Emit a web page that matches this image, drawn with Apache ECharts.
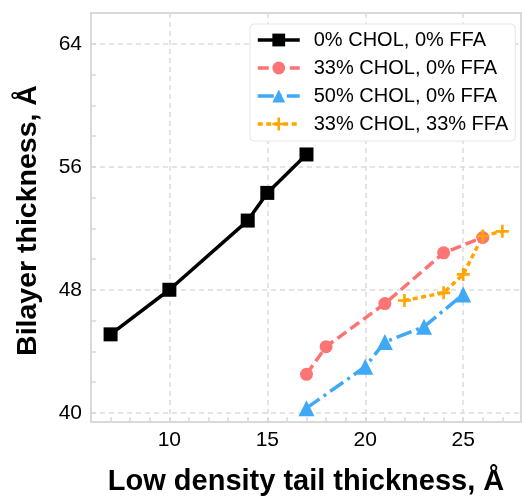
<!DOCTYPE html>
<html>
<head>
<meta charset="utf-8">
<script src="https://cdn.jsdelivr.net/npm/echarts@6/dist/echarts.min.js"></script>
<style>
  html, body { margin: 0; padding: 0; background: #fff; }
  #chart { width: 522px; height: 496px; }
</style>
</head>
<body>
<div id="chart"></div>
<script>
// data
const names = ["0% CHOL, 0% FFA", "33% CHOL, 0% FFA", "50% CHOL, 0% FFA", "33% CHOL, 33% FFA"];
const xChol0 = [7, 10, 14, 15, 17];
const yChol0 = [45.1, 48.0, 52.5, 54.3, 56.8];
const xChol33 = [17, 18, 21, 24, 26];
const yChol33 = [42.5, 44.3, 47.1, 50.4, 51.4];
const xChol50 = [17, 20, 21, 23, 25];
const yChol50 = [40.3, 43.0, 44.6, 45.6, 47.7];
const xFfa33 = [22, 24, 25, 26, 27];
const yFfa33 = [47.3, 47.8, 49.0, 51.5, 51.8];

const xTicks = [10, 15, 20, 25];
const yTicks = [40, 48, 56, 64];
const xMinor = [7, 8, 9, 11, 12, 13, 14, 16, 17, 18, 19, 21, 22, 23, 24, 26, 27];
const yMinor = [42, 44, 46, 50, 52, 54, 58, 60, 62, 66];

const xMin = 6, xMax = 27.95, yMin = 39.4, yMax = 66;

function pairs(xs, ys) {
  return xs.map((x, i) => [x, ys[i]]);
}

const plus = "path://M4,0H6V4H10V6H6V10H4V6H0V4H4Z";
const font = "Liberation Sans";
const gridRect = { left: 91, right: 1, top: 13, bottom: 74, outerBoundsMode: "none" };
const lw = 3.5;

const chart = echarts.init(document.getElementById("chart"));

const option = {
  animation: false,
  textStyle: { fontFamily: font },
  grid: [
    Object.assign({ show: true, borderColor: "#d9d9d9", borderWidth: 2 }, gridRect),
    Object.assign({ show: false }, gridRect)
  ],
  legend: {
    data: names,
    orient: "vertical",
    left: 250,
    top: 24,
    padding: [6, 7, 7, 6],
    itemWidth: 42,
    itemHeight: 16,
    itemGap: 8,
    backgroundColor: "#fff",
    borderColor: "#e6e6e6",
    borderWidth: 1,
    borderRadius: 4,
    lineStyle: { width: lw },
    textStyle: { fontSize: 20, lineHeight: 20, color: "#000", fontFamily: font, padding: [0, 0, 0, 9] }
  },
  xAxis: [
    {
      type: "value",
      gridIndex: 0,
      min: xMin,
      max: xMax,
      name: "Low density tail thickness, Å",
      nameLocation: "middle",
      nameGap: 45,
      nameTextStyle: { fontSize: 29, fontWeight: "bold", color: "#000", fontFamily: font },
      axisLine: { show: false },
      axisTick: { show: true, inside: true, length: 5, customValues: xTicks, lineStyle: { color: "#d9d9d9", width: 1.5 } },
      axisLabel: { customValues: xTicks, fontSize: 21, color: "#000", margin: 8 },
      splitLine: { show: true, lineStyle: { color: "#dcdcdc", width: 1.5, type: [5, 4] } }
    },
    {
      type: "value",
      gridIndex: 1,
      min: xMin,
      max: xMax,
      axisLine: { show: false },
      axisTick: { show: true, inside: true, length: 5, customValues: xMinor, lineStyle: { color: "#d9d9d9", width: 1.5 } },
      axisLabel: { show: false },
      splitLine: { show: false }
    }
  ],
  yAxis: [
    {
      type: "value",
      gridIndex: 0,
      min: yMin,
      max: yMax,
      name: "Bilayer thickness, Å",
      nameLocation: "middle",
      nameGap: 48,
      nameTextStyle: { fontSize: 28.5, fontWeight: "bold", color: "#000", fontFamily: font, padding: [0, 6, 0, 0] },
      axisLine: { show: false },
      axisTick: { show: true, inside: true, length: 5, customValues: yTicks, lineStyle: { color: "#d9d9d9", width: 1.5 } },
      axisLabel: { customValues: yTicks, fontSize: 21, color: "#000", margin: 9 },
      splitLine: { show: true, lineStyle: { color: "#dcdcdc", width: 1.5, type: [5, 4] } }
    },
    {
      type: "value",
      gridIndex: 1,
      min: yMin,
      max: yMax,
      axisLine: { show: false },
      axisTick: { show: true, inside: true, length: 5, customValues: yMinor, lineStyle: { color: "#d9d9d9", width: 1.5 } },
      axisLabel: { show: false },
      splitLine: { show: false }
    }
  ],
  series: [
    {
      name: names[0],
      type: "line",
      data: pairs(xChol0, yChol0),
      symbol: "rect",
      symbolSize: 14,
      color: "#000",
      lineStyle: { width: lw, color: "#000" },
      itemStyle: { color: "#000" }
    },
    {
      name: names[1],
      type: "line",
      data: pairs(xChol33, yChol33),
      symbol: "circle",
      symbolSize: 13,
      color: "#fc7474",
      lineStyle: { width: lw, color: "#fc7474", type: [11, 5] },
      itemStyle: { color: "#fc7474" }
    },
    {
      name: names[2],
      type: "line",
      data: pairs(xChol50, yChol50),
      symbol: "triangle",
      symbolSize: 16,
      color: "#3fa9f5",
      lineStyle: { width: lw, color: "#3fa9f5", type: [16, 5, 3, 5] },
      itemStyle: { color: "#3fa9f5" }
    },
    {
      name: names[3],
      type: "line",
      data: pairs(xFfa33, yFfa33),
      symbol: plus,
      symbolSize: 13,
      color: "#ffa500",
      lineStyle: { width: lw, color: "#ffa500", type: [5, 3.5] },
      itemStyle: { color: "#ffa500" }
    }
  ]
};

chart.setOption(option);
</script>
</body>
</html>
